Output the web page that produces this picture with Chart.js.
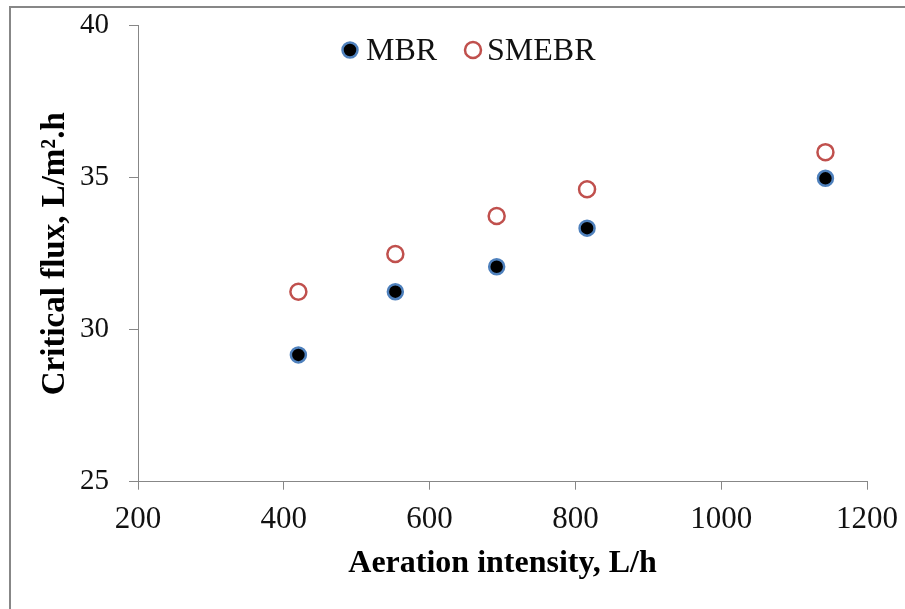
<!DOCTYPE html>
<html>
<head>
<meta charset="utf-8">
<script src="https://cdn.jsdelivr.net/npm/chart.js@4/dist/chart.umd.min.js"></script>
<style>
  html, body { margin: 0; padding: 0; background: #fff; }
  #wrap { position: relative; width: 905px; height: 609px; overflow: hidden; }
  #frame { position: absolute; left: 9px; top: 6px; width: 1200px; height: 1200px;
           border-left: 2px solid #878787; border-top: 2px solid #878787; }
  #c { position: absolute; left: 0; top: 0; }
</style>
</head>
<body>
<div id="wrap">
  <div id="frame"></div>
  <canvas id="c" width="905" height="609"></canvas>
</div>
<script>
// Aeration intensity (L/h) and critical flux (L/m².h) for the two reactors
const aeration = [420, 553, 692, 816, 1143];
const mbrFlux = [29.17, 31.25, 32.07, 33.34, 34.98];
const smebrFlux = [31.25, 32.49, 33.74, 34.62, 35.84];
const seriesNames = ['MBR', 'SMEBR'];
const xTicks = [200, 400, 600, 800, 1000, 1200];
const yTicks = [25, 30, 35, 40];

const SERIF = "'Liberation Serif', 'Times New Roman', serif";
const AXIS_GREY = '#878787';

const toPoints = (xs, ys) => xs.map((x, i) => ({ x, y: ys[i] }));

// Legend drawn inside the plot, using each dataset's own marker style
const innerLegend = {
  id: 'innerLegend',
  afterDraw(chart) {
    const ctx = chart.ctx;
    const slots = [{ mx: 350, tx: 366 }, { mx: 473, tx: 487 }];
    const cy = 50;
    ctx.save();
    chart.data.datasets.forEach((ds, i) => {
      const s = slots[i];
      ctx.beginPath();
      ctx.arc(s.mx, cy, ds.pointRadius, 0, Math.PI * 2);
      ctx.fillStyle = ds.pointBackgroundColor;
      ctx.fill();
      ctx.lineWidth = ds.pointBorderWidth;
      ctx.strokeStyle = ds.pointBorderColor;
      ctx.stroke();
      ctx.fillStyle = '#111';
      ctx.font = '32px ' + SERIF;
      ctx.textAlign = 'left';
      ctx.textBaseline = 'alphabetic';
      ctx.fillText(ds.label, s.tx, cy + 10);
    });
    ctx.restore();
  }
};

new Chart(document.getElementById('c'), {
  type: 'scatter',
  data: {
    datasets: [
      {
        label: seriesNames[0],
        data: toPoints(aeration, mbrFlux),
        pointRadius: 7.5,
        pointHoverRadius: 7.5,
        pointBackgroundColor: '#000000',
        pointBorderColor: '#4F81BD',
        pointBorderWidth: 2.5
      },
      {
        label: seriesNames[1],
        data: toPoints(aeration, smebrFlux),
        pointRadius: 8,
        pointHoverRadius: 8,
        pointBackgroundColor: '#ffffff',
        pointBorderColor: '#C0504D',
        pointBorderWidth: 2.5
      }
    ]
  },
  options: {
    responsive: false,
    animation: false,
    devicePixelRatio: 1,
    layout: { padding: { left: 0, right: 38, top: 25.7, bottom: 0 } },
    plugins: { legend: { display: false }, tooltip: { enabled: false } },
    scales: {
      x: {
        type: 'linear',
        min: xTicks[0],
        max: xTicks[xTicks.length - 1],
        afterBuildTicks: (s) => { s.ticks = xTicks.map(v => ({ value: v })); },
        afterFit: (s) => { s.height = 127.3; s.paddingLeft = 0; s.paddingRight = 0; },
        border: { color: AXIS_GREY, width: 1 },
        grid: { drawOnChartArea: false, drawTicks: true, tickLength: 8, color: AXIS_GREY },
        ticks: {
          color: '#111',
          font: { family: SERIF, size: 31 },
          padding: 12,
          callback: (v) => String(v)
        },
        title: {
          display: true,
          text: 'Aeration intensity, L/h',
          color: '#000',
          font: { family: SERIF, size: 32, weight: 'bold' },
          padding: { top: 0, bottom: 26 }
        }
      },
      y: {
        type: 'linear',
        min: yTicks[0],
        max: yTicks[yTicks.length - 1],
        afterBuildTicks: (s) => { s.ticks = yTicks.map(v => ({ value: v })); },
        afterFit: (s) => { s.width = 138; s.paddingTop = 0; s.paddingBottom = 0; },
        border: { color: AXIS_GREY, width: 1 },
        grid: { drawOnChartArea: false, drawTicks: true, tickLength: 9, color: AXIS_GREY },
        ticks: {
          color: '#111',
          font: { family: SERIF, size: 29 },
          padding: 20,
          callback: (v) => String(v)
        },
        title: {
          display: true,
          text: 'Critical flux, L/m².h',
          color: '#000',
          font: { family: SERIF, size: 33, weight: 'bold' },
          padding: { top: 36, bottom: 0 }
        }
      }
    }
  },
  plugins: [innerLegend]
});
</script>
</body>
</html>
